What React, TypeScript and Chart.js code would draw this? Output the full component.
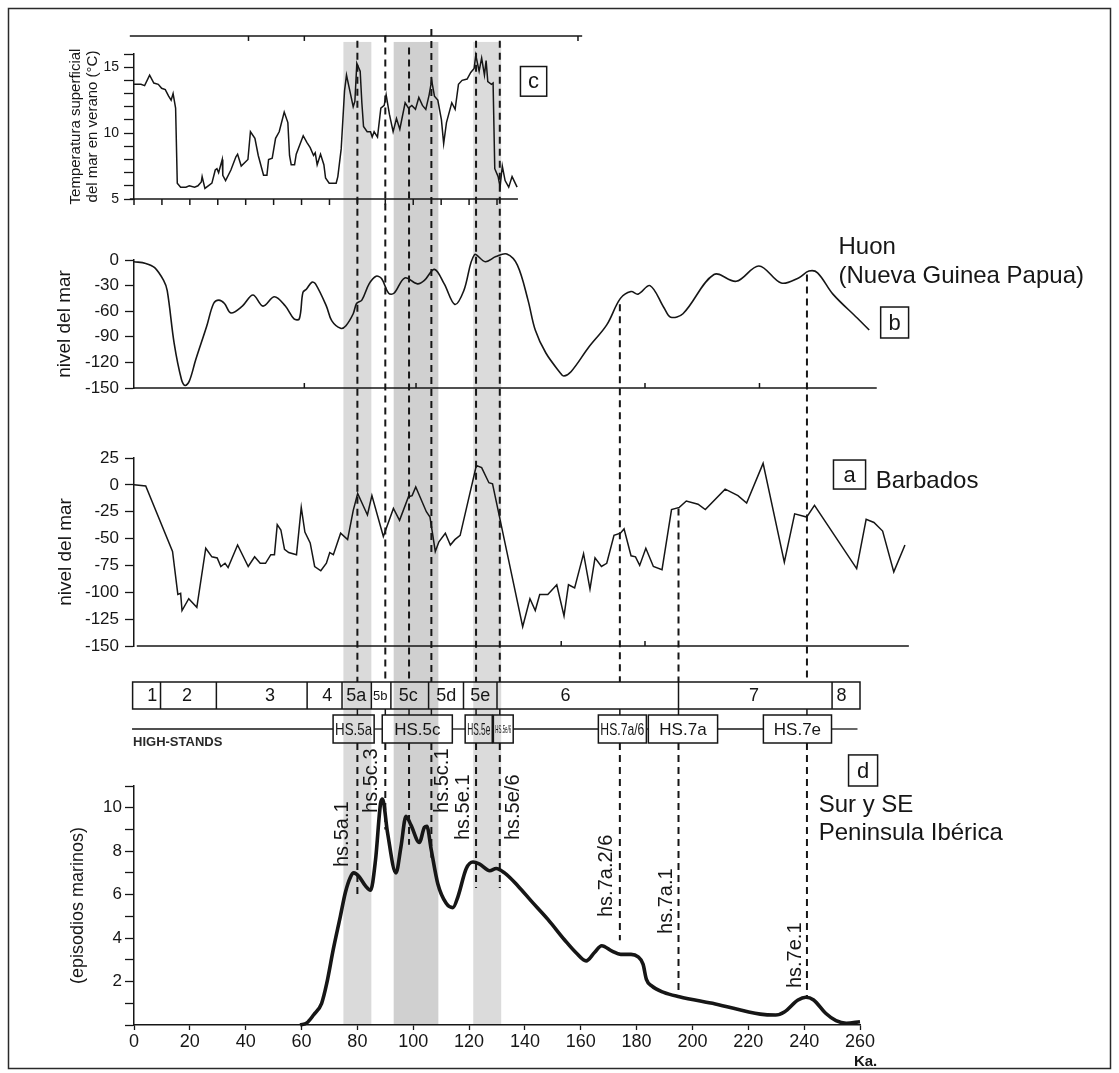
import React, { useEffect, useRef } from 'react';
import { Chart, registerables } from 'chart.js';

Chart.register(...registerables);

const FONT = "'Liberation Sans', Arial, Helvetica, sans-serif";
const INK = '#161616';

// ---------------- data ----------------
// c: summer sea-surface temperature (°C) vs age (ka)
const sstAge = [0, 2.5, 3.8, 5.6, 7.1, 8.7, 9.9, 11.2, 12.4, 13.3, 14.0, 14.9, 15.5, 16.7, 18.6, 19.8, 21.7, 22.9, 24.1, 24.4, 25.4, 27.9, 29.1, 29.7, 30.3, 31.6, 31.8, 32.8, 34.7, 36.5, 37.1, 38.4, 40.8, 41.7, 43.3, 44.5, 46.4, 47.6, 48.2, 49.5, 50.7, 52.0, 53.8, 55.1, 55.7, 56.3, 57.5, 58.1, 60.6, 61.9, 63.1, 64.3, 64.9, 65.6, 66.8, 68.0, 68.6, 69.9, 72.4, 73.0, 74.2, 75.4, 76.1, 77.3, 78.5, 79.1, 79.8, 80.4, 81.0, 81.6, 82.2, 83.5, 84.7, 85.3, 86.0, 87.2, 88.4, 89.6, 90.3, 91.5, 92.8, 94.0, 95.2, 97.1, 98.3, 99.5, 100.8, 102.0, 103.3, 104.5, 105.7, 106.6, 107.6, 108.8, 110.1, 110.9, 111.9, 113.8, 115.0, 116.2, 117.5, 119.3, 120.6, 121.8, 122.4, 123.6, 124.5, 125.5, 126.1, 126.7, 128.0, 128.6, 129.2, 130.4, 131.1, 131.9, 132.9, 134.2, 135.4, 137.2];
const sstTemp = [13.7, 13.7, 13.6, 14.4, 13.8, 13.7, 13.4, 13.3, 12.8, 12.5, 13.0, 11.9, 6.2, 5.9, 5.9, 6.0, 5.9, 6.0, 6.3, 6.7, 5.8, 6.2, 7.2, 7.3, 7.0, 8.0, 6.8, 6.4, 7.2, 8.2, 8.4, 7.5, 8.0, 10.1, 9.6, 8.3, 6.8, 6.8, 8.0, 8.1, 9.6, 10.1, 11.6, 10.8, 8.3, 7.6, 7.6, 8.4, 9.8, 9.3, 8.9, 8.3, 8.5, 7.6, 8.4, 7.6, 6.6, 6.2, 6.2, 6.7, 8.8, 13.2, 14.4, 13.2, 12.0, 12.4, 15.3, 15.0, 14.7, 12.3, 10.5, 10.1, 10.1, 9.7, 10.1, 9.7, 11.9, 12.1, 12.9, 11.4, 10.1, 11.1, 10.3, 12.3, 11.9, 12.1, 11.8, 12.7, 12.1, 11.8, 12.9, 14.0, 12.8, 12.5, 11.0, 9.2, 10.8, 12.3, 11.8, 13.7, 14.0, 14.1, 14.6, 14.9, 15.9, 14.7, 15.7, 14.4, 15.5, 13.9, 13.7, 13.8, 7.3, 6.7, 5.9, 7.5, 6.4, 5.9, 6.7, 5.9];

// b: Huon (Nueva Guinea Papua) sea level (m)
const huonAge = [0, 4.2, 7.4, 10.6, 11.9, 14.4, 17.0, 18.3, 19.8, 22.1, 26.0, 28.5, 30.4, 32.4, 34.7, 38.8, 42.6, 46.2, 50.3, 54.2, 57.3, 59.2, 60.5, 61.8, 63.7, 65.0, 68.9, 70.8, 74.0, 75.9, 78.5, 79.7, 81.6, 84.2, 86.7, 88.7, 91.2, 93.1, 97.0, 101.5, 104.0, 107.6, 111.1, 114.9, 118.1, 121.9, 125.8, 129.6, 133.5, 137.3, 141.1, 143.7, 147.5, 152.6, 153.9, 156.5, 162.9, 169.3, 174.2, 178.0, 180.5, 184.8, 189.8, 192.2, 196.6, 207.7, 215.7, 223.8, 231.8, 238.0, 241.7, 244.8, 250.3, 259.0, 263.3];
const huonLevel = [-2, -4, -9, -24, -36, -98, -140, -147, -142, -117, -78, -51, -47, -51, -62, -54, -41, -54, -43, -54, -69, -69, -38, -34, -26, -28, -54, -71, -80, -77, -63, -51, -47, -28, -19, -22, -39, -39, -21, -28, -24, -11, -28, -52, -36, 6, -2, 4, 7, -6, -47, -82, -109, -132, -136, -131, -102, -76, -45, -37, -40, -30, -56, -67, -63, -17, -25, -7, -27, -21, -13, -15, -40, -68, -82];

// a: Barbados sea level (m)
const barbAge = [0, 4.2, 13.8, 15.7, 16.7, 17.2, 19.6, 22.5, 25.7, 27.9, 29.8, 31.1, 32.6, 33.7, 37.1, 40.9, 43.2, 45.2, 47.1, 49.0, 50.3, 51.3, 52.6, 53.9, 55.4, 58.2, 59.9, 61.2, 63.1, 64.7, 66.9, 68.9, 70.1, 71.4, 74.0, 76.5, 78.5, 80.1, 83.6, 85.2, 89.3, 92.9, 95.1, 98.3, 99.6, 100.9, 104.7, 106.0, 107.9, 109.2, 111.5, 113.3, 114.9, 116.8, 122.6, 124.5, 127.1, 128.4, 133.5, 139.2, 141.8, 143.7, 145.3, 148.2, 151.4, 154.0, 155.6, 157.8, 161.0, 163.3, 165.1, 167.4, 169.3, 171.9, 174.2, 175.5, 178.0, 179.6, 181.1, 183.3, 186.0, 189.1, 192.5, 195.3, 197.8, 202.0, 204.6, 211.7, 216.3, 219.4, 225.3, 232.9, 236.6, 240.9, 243.7, 258.8, 262.2, 265.0, 268.1, 272.1, 276.1];
const barbLevel = [0, -1, -62, -102, -101, -117, -106, -114, -59, -67, -68, -76, -73, -77, -56, -76, -67, -73, -73, -65, -65, -37, -42, -60, -63, -65, -21, -44, -54, -76, -80, -73, -63, -65, -45, -51, -24, -8, -28, -10, -48, -22, -33, -11, -10, -2, -25, -30, -62, -53, -45, -56, -51, -47, 18, 16, 2, 1, -62, -132, -106, -117, -102, -102, -93, -122, -93, -96, -64, -97, -68, -76, -73, -47, -45, -41, -66, -67, -75, -59, -76, -79, -23, -21, -15, -18, -23, -4, -10, -17, 20, -72, -27, -30, -19, -78, -32, -35, -43, -81, -56];

// d: Sur y SE Peninsula Ibérica, marine episodes
const iberAge = [59.5, 61.9, 64.3, 67.2, 69.0, 71.4, 73.9, 75.7, 77.5, 78.7, 80.5, 82.9, 84.7, 86.5, 88.3, 89.0, 90.8, 93.8, 95.6, 97.4, 99.2, 102.2, 104.0, 104.9, 106.4, 108.8, 111.8, 114.2, 116.0, 119.0, 121.4, 123.8, 127.4, 129.7, 132.7, 137.5, 142.3, 148.3, 154.3, 158.5, 161.9, 165.0, 167.5, 171.2, 174.3, 178.0, 180.4, 182.3, 183.5, 185.4, 189.7, 195.3, 208.2, 224.3, 229.8, 232.9, 237.8, 240.6, 243.4, 247.7, 251.4, 255.1, 260.0];
const iberCount = [0, 0.1, 0.46, 1.0, 1.9, 3.5, 5.0, 6.1, 6.8, 7.0, 6.85, 6.4, 6.2, 7.6, 10.2, 10.4, 8.85, 7.0, 8.2, 9.6, 9.2, 8.4, 9.1, 9.15, 8.1, 6.5, 5.6, 5.4, 5.9, 7.2, 7.5, 7.4, 7.1, 7.2, 7.0, 6.4, 5.7, 4.85, 3.9, 3.3, 2.95, 3.35, 3.65, 3.4, 3.25, 3.25, 3.15, 2.8, 2.1, 1.8, 1.5, 1.3, 0.97, 0.5, 0.46, 0.6, 1.15, 1.28, 1.15, 0.54, 0.2, 0.08, 0.15];

// tick values
const ageTicks = [0, 20, 40, 60, 80, 100, 120, 140, 160, 180, 200, 220, 240, 260];
const sstTicks = [5, 6, 7, 8, 9, 10, 11, 12, 13, 14, 15, 16];
const huonTicks = [-150, -120, -90, -60, -30, 0];
const barbTicks = [-150, -125, -100, -75, -50, -25, 0, 25];
const iberTicks = [0, 1, 2, 3, 4, 5, 6, 7, 8, 9, 10, 11];
const cAxisAges = [0, 10, 20, 30, 40, 50, 60, 70, 80, 90, 100, 110, 120, 130];
const topAxisAges = [41, 61, 90, 159];
const bAxisAges = [61, 101, 183, 224];
const aAxisAges = [153, 183];

// marine isotope stages
const stageBounds = [-0.5, 9.5, 29.5, 62, 74.5, 85, 92, 105.5, 118, 130, 195, 250, 260];
const stageNames = ['1', '2', '3', '4', '5a', '5b', '5c', '5d', '5e', '6', '7', '8'];
const stageLabelAge = [6.5, 19, 48.7, 69.2, 79.6, 88.2, 98.2, 111.8, 124, 154.5, 222, 253.4];

// high-stands
const hsNames = ['HS.5a', 'HS.5c', 'HS.5e', 'HS.5e/6', 'HS.7a/6', 'HS.7a', 'HS.7e'];
const hsFrom = [71.3, 88.9, 118.6, 128.7, 166.3, 184.2, 225.4];
const hsTo = [86.0, 114.0, 128.3, 135.8, 183.5, 209.0, 249.8];

// shaded bands (ka)
const bandFrom = [75, 93, 121.5];
const bandTo = [85, 109, 131.5];
const bandShade = ['#dadada', '#d0d0d0', '#dbdbdb'];

// dashed high-stand markers
const markerAge = [80, 90, 98.5, 106.5, 122.5, 131, 174, 195, 241];
const markerTopAxis = ['yC', 'yC', 'yC', 'yC', 'yC', 'yC', 'yB', 'yA', 'yB'];
const markerTopValue = [17.0, 17.4, 16.5, 17.9, 17.0, 17.0, -52, -22, -17];
const markerBottom = [5.9, 9.0, 8.3, 7.7, 6.3, 6.3, 3.9, 1.6, 1.3];

const hsLabelText = ['hs.5a.1', 'hs.5c.3', 'hs.5c.1', 'hs.5e.1', 'hs.5e/6', 'hs.7a.2/6', 'hs.7a.1', 'hs.7e.1'];
const hsLabelAge = [74.7, 85.2, 110.3, 117.9, 135.8, 169.2, 190.7, 236.9];
const hsLabelBase = [7.27, 9.76, 9.76, 8.51, 8.51, 4.97, 4.19, 1.70];

// ---------------- layout constants ----------------
const AXIS_W = 104;
const C_TOP = 17.37;
const ROW = { stageTop: 36, stageBottom: 63, hsTop: 69, hsBottom: 97, hsLine: 83, hsText: 96 };
const HS_LINE_FROM = -0.7;
const HS_LINE_TO = 259.1;

const pts = (xs: number[], ys: number[]) => xs.map((x, i) => ({ x, y: ys[i] }));
const fixTicks = (values: number[]) => (s: any) => {
  s.ticks = values.map((v) => ({ value: v }));
};
const fixWidth = (s: any) => {
  s.width = AXIS_W;
};

function seg(ctx: CanvasRenderingContext2D, x1: number, y1: number, x2: number, y2: number) {
  ctx.beginPath();
  ctx.moveTo(x1, y1);
  ctx.lineTo(x2, y2);
  ctx.stroke();
}

function panelAxis(o: any) {
  return {
    type: 'linear',
    axis: 'y',
    position: 'left',
    stack: 'panels',
    stackWeight: o.weight,
    min: o.ticks[0],
    max: o.ticks[o.ticks.length - 1],
    afterBuildTicks: fixTicks(o.ticks),
    afterFit: fixWidth,
    ticks: {
      autoSkip: false,
      font: { family: FONT, size: o.tickFont },
      color: INK,
      padding: o.tickPad,
      callback: o.label,
    },
    grid: {
      display: true,
      drawOnChartArea: false,
      drawTicks: true,
      tickLength: o.tickLen,
      color: INK,
      tickColor: INK,
      tickWidth: 1.3,
    },
    border: { display: true, color: INK, width: 1.5 },
    title: {
      display: true,
      text: o.title,
      color: INK,
      font: { family: FONT, size: o.titleSize, lineHeight: o.lineHeight || 1.2 },
      padding: { top: o.titlePad, bottom: 0 },
    },
  };
}

function gapAxis(weight: number) {
  return {
    type: 'linear',
    axis: 'y',
    position: 'left',
    stack: 'panels',
    stackWeight: weight,
    min: 0,
    max: weight,
    reverse: true,
    afterFit: fixWidth,
    ticks: { display: false },
    grid: { display: false },
    border: { display: false },
    title: { display: false },
  };
}

const figurePlugin = {
  id: 'figure',
  beforeDraw(chart: any) {
    const { ctx, chartArea } = chart;
    const S = chart.scales;
    ctx.save();
    ctx.fillStyle = '#ffffff';
    ctx.fillRect(0, 0, chart.width, chart.height);
    const top = S.yC.getPixelForValue(C_TOP) + 6;
    const bottom = chartArea.bottom;
    for (let i = 0; i < bandFrom.length; i++) {
      const l = S.x.getPixelForValue(bandFrom[i]);
      const r = S.x.getPixelForValue(bandTo[i]);
      ctx.fillStyle = bandShade[i];
      ctx.fillRect(l, top, r - l, bottom - top);
    }
    ctx.restore();
  },
  afterDraw(chart: any) {
    const { ctx, chartArea } = chart;
    const S = chart.scales;
    const X = (v: number) => S.x.getPixelForValue(v);
    const Y = (id: string, v: number) => S[id].getPixelForValue(v);
    const G = (v: number) => S.yG3.getPixelForValue(v);
    ctx.save();
    ctx.strokeStyle = INK;
    ctx.fillStyle = INK;
    ctx.lineWidth = 1.5;

    // panel c top and bottom lines
    const yTop = Y('yC', C_TOP);
    seg(ctx, X(-1.5), yTop, X(160.5), yTop);
    topAxisAges.forEach((a) => seg(ctx, X(a), yTop, X(a), yTop + 5));
    const yC0 = Y('yC', sstTicks[0]);
    seg(ctx, X(-1.5), yC0, X(137.5), yC0);
    cAxisAges.forEach((a) => seg(ctx, X(a), yC0, X(a), yC0 + 6));
    // panel b bottom line
    const yB0 = Y('yB', huonTicks[0]);
    seg(ctx, X(0), yB0, X(266), yB0);
    bAxisAges.forEach((a) => seg(ctx, X(a), yB0, X(a), yB0 - 5));
    // panel a bottom line
    const yA0 = Y('yA', barbTicks[0]);
    seg(ctx, X(1), yA0, X(277.5), yA0);
    aAxisAges.forEach((a) => seg(ctx, X(a), yA0, X(a), yA0 - 5));

    // stage row
    const sT = G(ROW.stageTop);
    const sB = G(ROW.stageBottom);
    const x0 = X(stageBounds[0]);
    const x1 = X(stageBounds[stageBounds.length - 1]);
    ctx.strokeRect(x0, sT, x1 - x0, sB - sT);
    for (let i = 1; i < stageBounds.length - 1; i++) seg(ctx, X(stageBounds[i]), sT, X(stageBounds[i]), sB);
    ctx.textAlign = 'center';
    ctx.textBaseline = 'middle';
    stageNames.forEach((n, i) => {
      ctx.font = `${n === '5b' ? 13 : 18}px ${FONT}`;
      ctx.fillText(n, X(stageLabelAge[i]), (sT + sB) / 2 + 1);
    });

    // high-stands row
    const hT = G(ROW.hsTop);
    const hB = G(ROW.hsBottom);
    const hL = G(ROW.hsLine);
    ctx.lineWidth = 1.3;
    let cur = X(HS_LINE_FROM);
    hsFrom.forEach((f, i) => {
      if (X(f) > cur) seg(ctx, cur, hL, X(f), hL);
      cur = X(hsTo[i]);
    });
    seg(ctx, cur, hL, X(HS_LINE_TO), hL);
    ctx.lineWidth = 1.5;
    hsNames.forEach((n, i) => {
      const l = X(hsFrom[i]);
      const r = X(hsTo[i]);
      const w = r - l;
      ctx.strokeRect(l, hT, w, hB - hT);
      ctx.font = `${w < 25 ? 11 : 17}px ${FONT}`;
      ctx.fillText(n, (l + r) / 2, (hT + hB) / 2 + 1, w - 4);
    });
    ctx.textAlign = 'left';
    ctx.font = `bold 13px ${FONT}`;
    ctx.fillStyle = '#2a2a2a';
    ctx.fillText('HIGH-STANDS', X(HS_LINE_FROM) + 1, G(ROW.hsText));
    ctx.fillStyle = INK;

    // dashed high-stand markers
    ctx.lineWidth = 2;
    markerAge.forEach((a, i) => {
      const xm = X(a);
      const y0 = Y(markerTopAxis[i], markerTopValue[i]);
      const y1 = Y('yD', markerBottom[i]);
      ctx.setLineDash([7, 5]);
      seg(ctx, xm, y0, xm, sT);
      seg(ctx, xm, hB, xm, y1);
      ctx.setLineDash([]);
      ctx.lineWidth = 1.5;
      seg(ctx, xm, sB, xm, hT);
      ctx.lineWidth = 2;
    });

    // rotated high-stand labels in panel d
    ctx.font = `20px ${FONT}`;
    ctx.textAlign = 'left';
    ctx.textBaseline = 'middle';
    hsLabelText.forEach((t, i) => {
      ctx.save();
      ctx.translate(X(hsLabelAge[i]), Y('yD', hsLabelBase[i]));
      ctx.rotate(-Math.PI / 2);
      ctx.fillText(t, 0, 0);
      ctx.restore();
    });

    // panel letters
    const box = (letter: string, l: number, t: number, r: number, b: number) => {
      ctx.lineWidth = 1.5;
      ctx.strokeRect(l, t, r - l, b - t);
      ctx.font = `22px ${FONT}`;
      ctx.textAlign = 'center';
      ctx.textBaseline = 'middle';
      ctx.fillText(letter, (l + r) / 2, (t + b) / 2 + 1);
    };
    box('c', X(138.4), Y('yC', 15.05), X(147.8), Y('yC', 12.8));
    box('b', X(267.4), Y('yB', -55.1), X(277.4), Y('yB', -91.4));
    box('a', X(250.5), Y('yA', 23.1), X(262), Y('yA', -3.9));
    box('d', X(255.9), Y('yD', 12.43), X(266.3), Y('yD', 11.0));

    ctx.font = `24px ${FONT}`;
    ctx.textAlign = 'left';
    ctx.textBaseline = 'middle';
    ctx.fillText('Huon', X(252.3), Y('yB', 15.2));
    ctx.fillText('(Nueva Guinea Papua)', X(252.3), Y('yB', -18.75));
    ctx.fillText('Barbados', X(265.6), Y('yA', 3.6));
    ctx.fillText('Sur y SE', X(245.2), Y('yD', 10.12));
    ctx.fillText('Peninsula Ibérica', X(245.2), Y('yD', 8.84));

    ctx.font = `bold 15px ${FONT}`;
    ctx.textAlign = 'center';
    ctx.fillText('Ka.', X(262), chartArea.bottom + 37);

    // outer frame
    ctx.lineWidth = 1.5;
    ctx.strokeStyle = '#2a2a2a';
    ctx.strokeRect(8.5, 8.5, chart.width - 17, chart.height - 13);
    ctx.restore();
  },
};

export default function App() {
  const ref = useRef<HTMLCanvasElement>(null);

  useEffect(() => {
    document.body.style.margin = '0';
    Chart.defaults.font.family = FONT;
    Chart.defaults.color = INK;
    const line = (data: any, yAxisID: string, width: number, extra: any = {}) => ({
      type: 'line',
      data,
      xAxisID: 'x',
      yAxisID,
      borderColor: INK,
      borderWidth: width,
      pointRadius: 0,
      fill: false,
      clip: false,
      tension: 0,
      ...extra,
    });
    const chart = new Chart(ref.current as HTMLCanvasElement, {
      type: 'line',
      data: {
        datasets: [
          line(pts(sstAge, sstTemp), 'yC', 1.5),
          line(pts(huonAge, huonLevel), 'yB', 1.6, { tension: 0.35 }),
          line(pts(barbAge, barbLevel), 'yA', 1.5),
          line(pts(iberAge, iberCount), 'yD', 3.6, { cubicInterpolationMode: 'monotone' }),
        ] as any,
      },
      options: {
        responsive: false,
        animation: false,
        devicePixelRatio: 1,
        events: [],
        layout: { padding: { left: 30, right: 259, top: 54, bottom: 3 } },
        plugins: { legend: { display: false }, tooltip: { enabled: false } },
        scales: {
          x: {
            type: 'linear',
            position: 'bottom',
            bounds: 'data',
            afterDataLimits: (s: any) => {
              s.min = ageTicks[0];
              s.max = ageTicks[ageTicks.length - 1];
            },
            afterBuildTicks: fixTicks(ageTicks),
            afterFit: (s: any) => {
              s.height = 45;
            },
            ticks: { autoSkip: false, maxRotation: 0, font: { family: FONT, size: 18 }, color: INK, padding: 1 },
            grid: { display: true, drawOnChartArea: false, tickLength: 5, color: INK, tickColor: INK, tickWidth: 1.3 },
            border: { display: true, color: INK, width: 1.5 },
          },
          yD: panelAxis({
            weight: 239,
            ticks: iberTicks,
            tickFont: 17,
            tickPad: 3,
            tickLen: 9,
            label: (v: number) => (v > 0 && v % 2 === 0 ? String(v) : ''),
            title: '(episodios marinos)',
            titleSize: 18,
            titlePad: 37.2,
          }),
          yG3: gapAxis(140),
          yA: panelAxis({
            weight: 188,
            ticks: barbTicks,
            tickFont: 17,
            tickPad: 6,
            tickLen: 9,
            label: (v: number) => String(v),
            title: 'nivel del mar',
            titleSize: 19,
            titlePad: 24.6,
          }),
          yG2: gapAxis(70),
          yB: panelAxis({
            weight: 128,
            ticks: huonTicks,
            tickFont: 17,
            tickPad: 6,
            tickLen: 9,
            label: (v: number) => String(v),
            title: 'nivel del mar',
            titleSize: 19,
            titlePad: 23.6,
          }),
          yG1: gapAxis(61),
          yC: panelAxis({
            weight: 145,
            ticks: sstTicks,
            tickFont: 14,
            tickPad: 5,
            tickLen: 10,
            label: (v: number) => (v % 5 === 0 ? String(v) : ''),
            title: ['Temperatura superficial', 'del mar en verano (°C)'],
            titleSize: 15,
            lineHeight: 1.13,
            titlePad: 37.5,
          }),
        } as any,
      },
      plugins: [figurePlugin],
    } as any);
    return () => chart.destroy();
  }, []);

  return (
    <div style={{ width: 1119, height: 1073, overflow: 'hidden' }}>
      <canvas ref={ref} width={1119} height={1073} style={{ display: 'block', width: 1119, height: 1073 }} />
    </div>
  );
}
